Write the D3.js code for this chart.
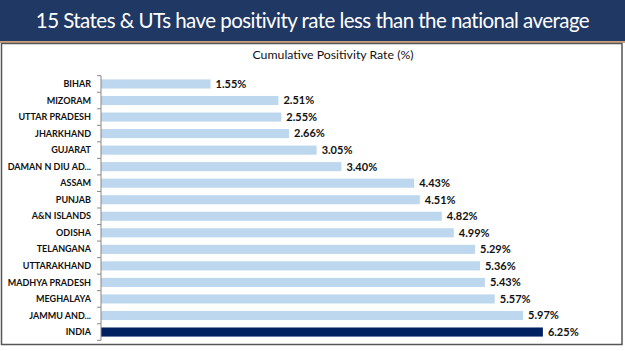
<!DOCTYPE html>
<html>
<head>
<meta charset="utf-8">
<script src="https://cdn.jsdelivr.net/npm/d3@7"></script>
<style>
  body { margin: 0; background: #fff; }
  svg { display: block; }
</style>
</head>
<body>
<div id="chart"></div>
<script>
var states = ["BIHAR", "MIZORAM", "UTTAR PRADESH", "JHARKHAND", "GUJARAT", "DAMAN N DIU AD...",
  "ASSAM", "PUNJAB", "A&N ISLANDS", "ODISHA", "TELANGANA", "UTTARAKHAND",
  "MADHYA PRADESH", "MEGHALAYA", "JAMMU AND...", "INDIA"];
var rates = [1.55, 2.51, 2.55, 2.66, 3.05, 3.40, 4.43, 4.51, 4.82, 4.99, 5.29, 5.36, 5.43, 5.57, 5.97, 6.25];
var title = "15 States & UTs have positivity rate less than the national average";
var subtitle = "Cumulative Positivity Rate (%)";

var W = 625, H = 351;
var data = states.map(function(s, i) { return {state: s, rate: rates[i]}; });

var svg = d3.select("#chart").append("svg")
    .attr("width", W)
    .attr("height", H);

// header band
svg.append("rect").attr("x", 0).attr("y", 0).attr("width", W).attr("height", 41).attr("fill", "#1f3864");
svg.append("rect").attr("x", 0).attr("y", 41).attr("width", W).attr("height", 2).attr("fill", "#c8a07c");
svg.append("text")
    .attr("x", W / 2).attr("y", 28)
    .attr("text-anchor", "middle")
    .attr("fill", "#fff")
    .attr("font-family", "Lato, 'Open Sans', sans-serif")
    .attr("font-size", 20.5)
    .attr("letter-spacing", -0.55)
    .text(title);

// chart panel
svg.append("rect")
    .attr("x", 1.5).attr("y", 43.5).attr("width", 620.5).attr("height", 301)
    .attr("fill", "#fff").attr("stroke", "#555").attr("stroke-width", 1.5);

svg.append("text")
    .attr("x", 333).attr("y", 59)
    .attr("text-anchor", "middle")
    .attr("fill", "#111")
    .attr("font-family", "Lato, sans-serif")
    .attr("font-size", 12.3)
    .text(subtitle);

var x = d3.scaleLinear().domain([0, 7]).range([101, 101 + 7 * 70.7]);
var y = d3.scaleBand().domain(states).range([75.7, 340.3]).paddingInner(0.45).paddingOuter(0.225);

var g = svg.append("g");

g.selectAll(".bar")
    .data(data)
    .enter().append("rect")
    .attr("class", "bar")
    .attr("x", x(0))
    .attr("y", function(d) { return y(d.state); })
    .attr("width", function(d) { return x(d.rate) - x(0); })
    .attr("height", y.bandwidth())
    .attr("fill", function(d) { return d.state === "INDIA" ? "#002060" : "#bdd7ee"; });

g.selectAll(".val")
    .data(data)
    .enter().append("text")
    .attr("class", "val")
    .attr("x", function(d) { return x(d.rate) + 5; })
    .attr("y", function(d) { return y(d.state) + y.bandwidth() / 2; })
    .attr("dy", "0.35em")
    .attr("font-family", "Lato, sans-serif")
    .attr("font-weight", "bold")
    .attr("font-size", 11)
    .attr("fill", "#111")
    .text(function(d) { return d.rate.toFixed(2) + "%"; });

// category axis with ticks at band edges
var pad = (y.step() - y.bandwidth()) / 2;
var edges = states.map(function(s) { return y(s) - pad; });
edges.push(y(states[states.length - 1]) + y.bandwidth() + pad);

g.append("line")
    .attr("x1", x(0)).attr("x2", x(0))
    .attr("y1", edges[0]).attr("y2", edges[edges.length - 1])
    .attr("stroke", "#888").attr("stroke-width", 1);

g.selectAll(".tick")
    .data(edges)
    .enter().append("line")
    .attr("class", "tick")
    .attr("x1", x(0) - 4).attr("x2", x(0))
    .attr("y1", function(d) { return d; }).attr("y2", function(d) { return d; })
    .attr("stroke", "#888").attr("stroke-width", 1);

g.selectAll(".cat")
    .data(data)
    .enter().append("text")
    .attr("class", "cat")
    .attr("x", 91)
    .attr("y", function(d) { return y(d.state) + y.bandwidth() / 2; })
    .attr("dy", "0.35em")
    .attr("text-anchor", "end")
    .attr("font-family", "Lato, sans-serif")
    .attr("font-weight", "bold")
    .attr("font-size", 9)
    .attr("fill", "#111")
    .text(function(d) { return d.state; });
</script>
</body>
</html>
